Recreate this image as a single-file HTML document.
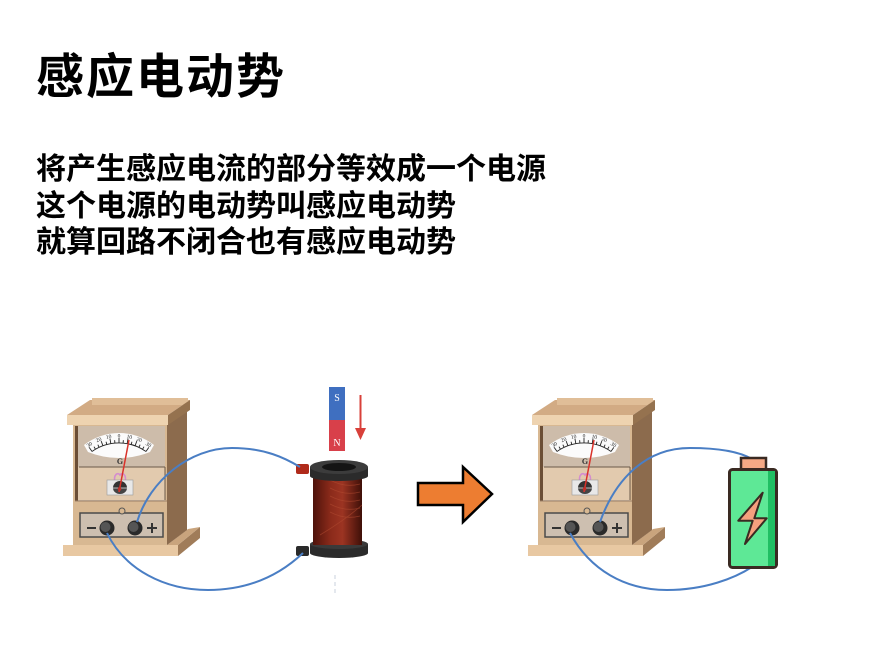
<!DOCTYPE html>
<html><head><meta charset="utf-8"><style>
html,body{margin:0;padding:0;background:#fff;}
body{width:892px;height:668px;position:relative;overflow:hidden;font-family:"Liberation Sans","Noto Sans CJK SC",sans-serif;}
.t{position:absolute;left:36px;top:54px;font-size:48px;line-height:48px;font-weight:bold;letter-spacing:2px;color:#000;white-space:nowrap;}
.b{position:absolute;left:36px;font-size:30px;line-height:30px;font-weight:bold;color:#000;white-space:nowrap;}
svg{position:absolute;left:0;top:0;}
</style></head><body>
<div class="t">感应电动势</div>
<div class="b" style="top:155px">将产生感应电流的部分等效成一个电源</div>
<div class="b" style="top:191.5px">这个电源的电动势叫感应电动势</div>
<div class="b" style="top:228px">就算回路不闭合也有感应电动势</div>

<svg width="892" height="668" viewBox="0 0 892 668" xmlns="http://www.w3.org/2000/svg">
<defs>
<linearGradient id="cu" x1="0" x2="1" y1="0" y2="0">
<stop offset="0" stop-color="#4e130b"/><stop offset="0.35" stop-color="#8a2a1a"/><stop offset="0.6" stop-color="#9c3422"/><stop offset="1" stop-color="#3e0f08"/>
</linearGradient>
</defs>

<!-- Galvanometer 1 -->
<g id="g1">
 <polygon points="178,545 200,527 200,538 178,556" fill="#a07c59"/>
 <polygon points="167,545 188,529 200,527 178,545" fill="#c9a47d"/>
 <rect x="63" y="545" width="115" height="11" fill="#e8c8a2"/>
 <polygon points="167,425 187,408 187,530 167,545" fill="#8c6b4d"/>
 <rect x="73" y="420" width="94" height="125" fill="#d8b892"/>
 <polygon points="67,415 90,400 190,400 168,415" fill="#d2ab84"/>
 <rect x="92" y="398" width="96" height="7" fill="#e0be98"/>
 <polygon points="168,415 190,400 190,410 168,425" fill="#95724f"/>
 <rect x="67" y="415" width="101" height="10" fill="#eed3b0"/>
 <!-- window -->
 <rect x="75" y="426" width="90" height="75" fill="#cdbcaa"/>
 <rect x="75" y="426" width="3" height="75" fill="#6b4e36"/>
 <rect x="78" y="467" width="87" height="33" fill="#e2caae"/>
 <line x1="79" y1="467" x2="165" y2="467" stroke="#6b5a4a" stroke-width="1"/>
 <line x1="165" y1="467" x2="165" y2="500" stroke="#6b5a4a" stroke-width="1"/>
 <line x1="75" y1="501" x2="167" y2="501" stroke="#9c8068" stroke-width="1"/>
 <!-- scale -->
 <path d="M84,445 A57,57 0 0 1 154,445 L150,452 A83,83 0 0 1 88,452 Z" fill="#fbfbfb"/>
 <path d="M92,451.5 A47,47 0 0 1 146,451.5" fill="none" stroke="#222" stroke-width="0.9"/>
 <g stroke="#222" stroke-width="0.9">
  <line x1="119" y1="443" x2="119" y2="438" transform="rotate(-35 119 490)"/>
  <line x1="119" y1="443" x2="119" y2="440" transform="rotate(-30 119 490)"/>
  <line x1="119" y1="443" x2="119" y2="440" transform="rotate(-25 119 490)"/>
  <line x1="119" y1="443" x2="119" y2="438" transform="rotate(-20 119 490)"/>
  <line x1="119" y1="443" x2="119" y2="440" transform="rotate(-15 119 490)"/>
  <line x1="119" y1="443" x2="119" y2="438" transform="rotate(-10 119 490)"/>
  <line x1="119" y1="443" x2="119" y2="440" transform="rotate(-5 119 490)"/>
  <line x1="119" y1="443" x2="119" y2="438" transform="rotate(0 119 490)"/>
  <line x1="119" y1="443" x2="119" y2="440" transform="rotate(5 119 490)"/>
  <line x1="119" y1="443" x2="119" y2="438" transform="rotate(10 119 490)"/>
  <line x1="119" y1="443" x2="119" y2="440" transform="rotate(15 119 490)"/>
  <line x1="119" y1="443" x2="119" y2="438" transform="rotate(20 119 490)"/>
  <line x1="119" y1="443" x2="119" y2="440" transform="rotate(25 119 490)"/>
  <line x1="119" y1="443" x2="119" y2="440" transform="rotate(30 119 490)"/>
  <line x1="119" y1="443" x2="119" y2="438" transform="rotate(35 119 490)"/>
 </g>
 <g font-family="Liberation Serif,serif" font-size="5.5" fill="#222" text-anchor="middle">
  <text x="119" y="437.5" transform="rotate(-33 119 490)">30</text>
  <text x="119" y="437.5" transform="rotate(-22 119 490)">20</text>
  <text x="119" y="437.5" transform="rotate(-11 119 490)">10</text>
  <text x="119" y="437.5">0</text>
  <text x="119" y="437.5" transform="rotate(11 119 490)">10</text>
  <text x="119" y="437.5" transform="rotate(22 119 490)">20</text>
  <text x="119" y="437.5" transform="rotate(33 119 490)">30</text>
 </g>
 <text x="120" y="464" font-family="Liberation Serif,serif" font-size="8" font-weight="bold" fill="#333" text-anchor="middle">G</text>
 <path d="M115,483 C113,474 118,472 120,475 C122,472 127,474 125,483" fill="none" stroke="#d48ccf" stroke-width="1.6"/>
 <rect x="107" y="480" width="26" height="15" fill="#e8e8e8" stroke="#999" stroke-width="0.6"/>
 <path d="M113,488 A7,7 0 0 1 127,488 Z" fill="#333"/>
 <path d="M113,488 A7,6 0 0 0 127,488 Z" fill="#444"/>
 <line x1="112" y1="488" x2="128" y2="488" stroke="#ddd" stroke-width="0.8"/>
 <line x1="119" y1="492" x2="129" y2="440" stroke="#d9322a" stroke-width="1.5"/>
 <circle cx="119.5" cy="489" r="1.8" fill="#c0302a"/>
 <!-- lower panel -->
 <rect x="80" y="513" width="83" height="24" fill="#cdbfb0" stroke="#4a4a4a" stroke-width="1.5"/>
 <circle cx="122" cy="511" r="3" fill="#d8b892" stroke="#555" stroke-width="1"/>
 <line x1="87" y1="528" x2="96" y2="528" stroke="#333" stroke-width="2"/>
 <line x1="147" y1="528" x2="157" y2="528" stroke="#333" stroke-width="2"/>
 <line x1="152" y1="523" x2="152" y2="533" stroke="#333" stroke-width="2"/>
 <circle cx="107" cy="528" r="7.5" fill="#2a2a2a"/>
 <circle cx="105.5" cy="527" r="5" fill="#555"/>
 <circle cx="135" cy="528" r="7.5" fill="#2a2a2a"/>
 <circle cx="133.5" cy="527" r="5" fill="#555"/>
</g>

<!-- coil -->
<rect x="310" y="544" width="58" height="9" fill="#2b2b2b"/>
<ellipse cx="339" cy="553" rx="29" ry="5" fill="#2b2b2b"/>
<ellipse cx="339" cy="544" rx="29" ry="5" fill="#3a3a3a"/>
<rect x="313" y="472" width="49" height="73" fill="url(#cu)"/>
<g stroke="#b04a30" stroke-width="0.8" opacity="0.6" fill="none">
 <path d="M330,480 Q345,488 360,484"/><path d="M330,488 Q345,496 360,492"/><path d="M330,496 Q345,504 360,500"/>
 <path d="M330,504 Q345,512 360,508"/><path d="M330,512 Q345,520 360,516"/><path d="M320,535 Q345,520 362,505"/>
</g>
<rect x="310" y="467" width="58" height="9" fill="#2b2b2b"/>
<ellipse cx="339" cy="476" rx="29" ry="5" fill="#2b2b2b"/>
<ellipse cx="339" cy="467" rx="29" ry="7" fill="#3c3c3c"/>
<ellipse cx="339" cy="467" rx="17" ry="4" fill="#141414"/>
<rect x="296" y="464" width="13" height="10" rx="2" fill="#b02a1a"/>
<rect x="296" y="546" width="13" height="10" rx="2" fill="#2a2a2a"/>

<!-- magnet -->
<rect x="329" y="387" width="16" height="33" fill="#3f6fc0"/>
<rect x="329" y="420" width="16" height="31" fill="#d8404a"/>
<text x="337" y="401" font-family="Liberation Serif,serif" font-size="10" fill="#fff" text-anchor="middle">S</text>
<text x="337" y="446" font-family="Liberation Serif,serif" font-size="10" fill="#fff" text-anchor="middle">N</text>
<line x1="360.5" y1="395" x2="360.5" y2="429" stroke="#d8403a" stroke-width="2"/>
<polygon points="355,428 366,428 360.5,440" fill="#d8403a"/>
<line x1="335" y1="575" x2="335" y2="593" stroke="#c8d0dc" stroke-width="1" stroke-dasharray="4,3"/>

<!-- wires scene 1 -->
<g fill="none" stroke="#4a7ec4" stroke-width="2">
 <path d="M137,522 C150,480 190,448 232,448 C265,448 285,458 300,467"/>
 <path d="M107,533 C125,570 165,590 208,590 C255,590 285,570 303,553"/>
</g>

<!-- orange arrow -->
<polygon points="418,483 463,483 463,467 492,494 463,522 463,505 418,505" fill="#ed7d31" stroke="#000" stroke-width="2.5" stroke-linejoin="miter"/>

<!-- Galvanometer 2 -->
<g transform="translate(465,0)">
 <polygon points="178,545 200,527 200,538 178,556" fill="#a07c59"/>
 <polygon points="167,545 188,529 200,527 178,545" fill="#c9a47d"/>
 <rect x="63" y="545" width="115" height="11" fill="#e8c8a2"/>
 <polygon points="167,425 187,408 187,530 167,545" fill="#8c6b4d"/>
 <rect x="73" y="420" width="94" height="125" fill="#d8b892"/>
 <polygon points="67,415 90,400 190,400 168,415" fill="#d2ab84"/>
 <rect x="92" y="398" width="96" height="7" fill="#e0be98"/>
 <polygon points="168,415 190,400 190,410 168,425" fill="#95724f"/>
 <rect x="67" y="415" width="101" height="10" fill="#eed3b0"/>
 <rect x="75" y="426" width="90" height="75" fill="#cdbcaa"/>
 <rect x="75" y="426" width="3" height="75" fill="#6b4e36"/>
 <rect x="78" y="467" width="87" height="33" fill="#e2caae"/>
 <line x1="79" y1="467" x2="165" y2="467" stroke="#6b5a4a" stroke-width="1"/>
 <line x1="165" y1="467" x2="165" y2="500" stroke="#6b5a4a" stroke-width="1"/>
 <line x1="75" y1="501" x2="167" y2="501" stroke="#9c8068" stroke-width="1"/>
 <path d="M84,445 A57,57 0 0 1 154,445 L150,452 A83,83 0 0 1 88,452 Z" fill="#fbfbfb"/>
 <path d="M92,451.5 A47,47 0 0 1 146,451.5" fill="none" stroke="#222" stroke-width="0.9"/>
 <g stroke="#222" stroke-width="0.9">
  <line x1="119" y1="443" x2="119" y2="438" transform="rotate(-35 119 490)"/>
  <line x1="119" y1="443" x2="119" y2="440" transform="rotate(-30 119 490)"/>
  <line x1="119" y1="443" x2="119" y2="440" transform="rotate(-25 119 490)"/>
  <line x1="119" y1="443" x2="119" y2="438" transform="rotate(-20 119 490)"/>
  <line x1="119" y1="443" x2="119" y2="440" transform="rotate(-15 119 490)"/>
  <line x1="119" y1="443" x2="119" y2="438" transform="rotate(-10 119 490)"/>
  <line x1="119" y1="443" x2="119" y2="440" transform="rotate(-5 119 490)"/>
  <line x1="119" y1="443" x2="119" y2="438" transform="rotate(0 119 490)"/>
  <line x1="119" y1="443" x2="119" y2="440" transform="rotate(5 119 490)"/>
  <line x1="119" y1="443" x2="119" y2="438" transform="rotate(10 119 490)"/>
  <line x1="119" y1="443" x2="119" y2="440" transform="rotate(15 119 490)"/>
  <line x1="119" y1="443" x2="119" y2="438" transform="rotate(20 119 490)"/>
  <line x1="119" y1="443" x2="119" y2="440" transform="rotate(25 119 490)"/>
  <line x1="119" y1="443" x2="119" y2="440" transform="rotate(30 119 490)"/>
  <line x1="119" y1="443" x2="119" y2="438" transform="rotate(35 119 490)"/>
 </g>
 <g font-family="Liberation Serif,serif" font-size="5.5" fill="#222" text-anchor="middle">
  <text x="119" y="437.5" transform="rotate(-33 119 490)">30</text>
  <text x="119" y="437.5" transform="rotate(-22 119 490)">20</text>
  <text x="119" y="437.5" transform="rotate(-11 119 490)">10</text>
  <text x="119" y="437.5">0</text>
  <text x="119" y="437.5" transform="rotate(11 119 490)">10</text>
  <text x="119" y="437.5" transform="rotate(22 119 490)">20</text>
  <text x="119" y="437.5" transform="rotate(33 119 490)">30</text>
 </g>
 <text x="120" y="464" font-family="Liberation Serif,serif" font-size="8" font-weight="bold" fill="#333" text-anchor="middle">G</text>
 <path d="M115,483 C113,474 118,472 120,475 C122,472 127,474 125,483" fill="none" stroke="#d48ccf" stroke-width="1.6"/>
 <rect x="107" y="480" width="26" height="15" fill="#e8e8e8" stroke="#999" stroke-width="0.6"/>
 <path d="M113,488 A7,7 0 0 1 127,488 Z" fill="#333"/>
 <path d="M113,488 A7,6 0 0 0 127,488 Z" fill="#444"/>
 <line x1="112" y1="488" x2="128" y2="488" stroke="#ddd" stroke-width="0.8"/>
 <line x1="119" y1="492" x2="129" y2="440" stroke="#d9322a" stroke-width="1.5"/>
 <circle cx="119.5" cy="489" r="1.8" fill="#c0302a"/>
 <rect x="80" y="513" width="83" height="24" fill="#cdbfb0" stroke="#4a4a4a" stroke-width="1.5"/>
 <circle cx="122" cy="511" r="3" fill="#d8b892" stroke="#555" stroke-width="1"/>
 <line x1="87" y1="528" x2="96" y2="528" stroke="#333" stroke-width="2"/>
 <line x1="147" y1="528" x2="157" y2="528" stroke="#333" stroke-width="2"/>
 <line x1="152" y1="523" x2="152" y2="533" stroke="#333" stroke-width="2"/>
 <circle cx="107" cy="528" r="7.5" fill="#2a2a2a"/>
 <circle cx="105.5" cy="527" r="5" fill="#555"/>
 <circle cx="135" cy="528" r="7.5" fill="#2a2a2a"/>
 <circle cx="133.5" cy="527" r="5" fill="#555"/>
</g>

<!-- wires scene 2 -->
<g fill="none" stroke="#4a7ec4" stroke-width="2">
 <path d="M600,522 C615,480 645,448 690,448 C720,448 740,452 752,459"/>
 <path d="M570,533 C590,570 625,590 667,590 C705,590 735,578 752,567"/>
</g>

<!-- battery -->
<rect x="741" y="458" width="25" height="12" fill="#f6a985" stroke="#3a2a22" stroke-width="2.5"/>
<rect x="729.5" y="469.5" width="47" height="98" rx="3" fill="#5ee896" stroke="#3a2a22" stroke-width="3"/>
<rect x="768" y="471" width="7" height="95" fill="#20bf63"/>
<line x1="776.5" y1="472" x2="776.5" y2="565" stroke="#3a2a22" stroke-width="3"/>
<polygon points="762.7,492.7 738.3,520.7 752.7,520.7 745,544 766.7,518.3 754.3,518.3" fill="#f5a07e" stroke="#3a2a22" stroke-width="2" stroke-linejoin="round"/>
</svg>
</body></html>
